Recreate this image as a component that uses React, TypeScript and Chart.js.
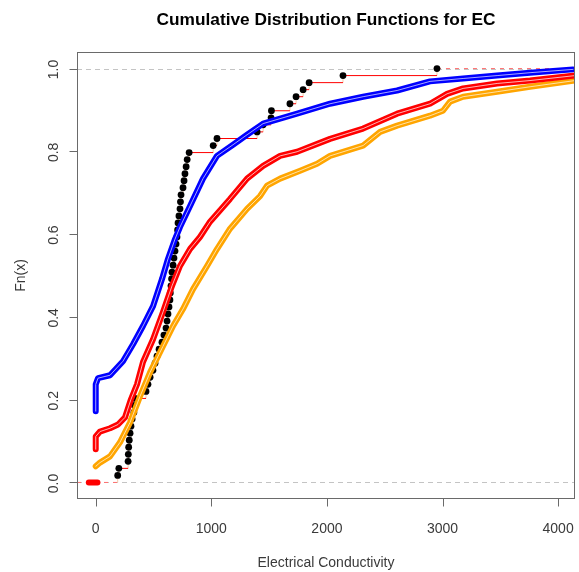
import React, { useEffect, useRef } from 'react';
import { Chart, registerables } from 'chart.js';
Chart.register(...registerables);

const title = 'Cumulative Distribution Functions for EC';
const xTitle = 'Electrical Conductivity';
const yTitle = 'Fn(x)';
const xTicks = [0, 1000, 2000, 3000, 4000];
const xTickLabels = ['0', '1000', '2000', '3000', '4000'];
const yTicks = [0, 0.2, 0.4, 0.6, 0.8, 1.0];
const yTickLabels = ['0.0', '0.2', '0.4', '0.6', '0.8', '1.0'];
const refLines = [0, 1];

const blueX = [0, 0, 20, 124, 236, 323, 409, 496, 574, 625, 686, 729, 816, 928, 1049, 1188, 1309, 1448, 1742, 2027, 2313, 2607, 2892, 3178, 3472, 3757, 4129];
const blueY = [0.172, 0.237, 0.252, 0.259, 0.293, 0.334, 0.378, 0.426, 0.492, 0.54, 0.588, 0.617, 0.668, 0.734, 0.789, 0.816, 0.84, 0.867, 0.891, 0.915, 0.932, 0.947, 0.969, 0.976, 0.983, 0.99, 0.998];

const redX = [0, 0, 37, 124, 193, 253, 305, 357, 409, 496, 582, 660, 729, 816, 902, 989, 1162, 1309, 1448, 1595, 1742, 2027, 2313, 2607, 2892, 3039, 3178, 3472, 3757, 4146];
const redY = [0.08, 0.111, 0.123, 0.131, 0.14, 0.157, 0.201, 0.237, 0.291, 0.346, 0.412, 0.475, 0.523, 0.564, 0.593, 0.63, 0.685, 0.734, 0.765, 0.789, 0.799, 0.83, 0.855, 0.891, 0.915, 0.939, 0.952, 0.964, 0.971, 0.983];
const redZeroX = [-60, 15];
const redZeroY = [0, 0];

const orangeX = [0, 37, 124, 210, 297, 383, 470, 582, 669, 755, 842, 963, 1049, 1162, 1309, 1422, 1482, 1595, 1768, 1915, 2027, 2313, 2460, 2607, 2892, 3004, 3065, 3178, 3472, 3757, 4146];
const orangeY = [0.039, 0.048, 0.063, 0.097, 0.145, 0.208, 0.266, 0.329, 0.378, 0.419, 0.467, 0.523, 0.564, 0.613, 0.661, 0.692, 0.717, 0.734, 0.753, 0.77, 0.789, 0.814, 0.847, 0.862, 0.886, 0.898, 0.92, 0.932, 0.944, 0.956, 0.971];

const ecdfX = [190, 200, 280, 282, 285, 290, 297, 305, 315, 330, 335, 340, 435, 452, 470, 495, 513, 530, 548, 573, 590, 608, 617, 625, 634, 642, 645, 651, 656, 660, 669, 677, 686, 695, 703, 708, 712, 720, 729, 733, 738, 755, 764, 772, 782, 791, 808, 1016, 1049, 1396, 1448, 1517, 1520, 1680, 1733, 1794, 1846, 2139, 2952];
const ecdfY = [0.017, 0.034, 0.051, 0.068, 0.085, 0.102, 0.119, 0.136, 0.153, 0.169, 0.186, 0.203, 0.22, 0.237, 0.254, 0.271, 0.288, 0.305, 0.322, 0.339, 0.356, 0.373, 0.39, 0.407, 0.424, 0.441, 0.458, 0.475, 0.492, 0.508, 0.525, 0.542, 0.559, 0.576, 0.593, 0.61, 0.627, 0.644, 0.661, 0.678, 0.695, 0.712, 0.729, 0.746, 0.763, 0.78, 0.797, 0.814, 0.831, 0.847, 0.864, 0.881, 0.898, 0.915, 0.932, 0.949, 0.966, 0.983, 1.0];

const X_MIN = -162;
const X_MAX = 4146;
const Y_MIN = -0.04;
const Y_MAX = 1.04;

const pts = (xs: number[], ys: number[]) => xs.map((x, i) => ({ x, y: ys[i] }));

function ecdfHoriz() {
  const out: { x: number; y: number | null }[] = [];
  for (let i = 0; i < ecdfX.length - 1; i++) {
    out.push({ x: ecdfX[i], y: ecdfY[i] });
    out.push({ x: ecdfX[i + 1], y: ecdfY[i] });
    out.push({ x: ecdfX[i + 1], y: null });
  }
  return out;
}
function ecdfVert() {
  const out: { x: number; y: number | null }[] = [];
  out.push({ x: ecdfX[0], y: 0 });
  out.push({ x: ecdfX[0], y: ecdfY[0] });
  out.push({ x: ecdfX[0], y: null });
  for (let i = 0; i < ecdfX.length - 1; i++) {
    out.push({ x: ecdfX[i + 1], y: ecdfY[i] });
    out.push({ x: ecdfX[i + 1], y: ecdfY[i + 1] });
    out.push({ x: ecdfX[i + 1], y: null });
  }
  return out;
}
function ecdfEnds() {
  return [
    { x: X_MIN, y: 0 },
    { x: ecdfX[0], y: 0 },
    { x: ecdfX[0], y: null },
    { x: ecdfX[ecdfX.length - 1], y: ecdfY[ecdfY.length - 1] },
    { x: X_MAX, y: ecdfY[ecdfY.length - 1] },
  ];
}

const FONT = '"Liberation Sans", Arial, Helvetica, sans-serif';

const rPlugin = {
  id: 'rStyle',
  beforeDatasetsDraw(chart: any) {
    const { ctx, chartArea, scales } = chart;
    const y = scales.y;
    ctx.save();
    ctx.strokeStyle = '#c4c4c4';
    ctx.lineWidth = 1;
    ctx.setLineDash([5, 4]);
    for (const v of refLines) {
      const py = Math.round(y.getPixelForValue(v)) + 0.5;
      ctx.beginPath();
      ctx.moveTo(chartArea.left, py);
      ctx.lineTo(chartArea.right, py);
      ctx.stroke();
    }
    ctx.restore();
  },
  afterDraw(chart: any) {
    const { ctx, chartArea, scales } = chart;
    const x = scales.x;
    const y = scales.y;
    const { left, right, top, bottom } = chartArea;
    ctx.save();
    ctx.strokeStyle = '#6a6a6a';
    ctx.lineWidth = 1;
    ctx.setLineDash([]);
    ctx.strokeRect(left + 0.5, top + 0.5, right - left - 1, bottom - top - 1);

    const bx = bottom - 0.5;
    ctx.beginPath();
    ctx.moveTo(x.getPixelForValue(xTicks[0]), bx);
    ctx.lineTo(x.getPixelForValue(xTicks[xTicks.length - 1]), bx);
    for (const t of xTicks) {
      const px = Math.round(x.getPixelForValue(t)) + 0.5;
      ctx.moveTo(px, bx);
      ctx.lineTo(px, bx + 8);
    }
    const lx = left + 0.5;
    ctx.moveTo(lx, y.getPixelForValue(yTicks[0]));
    ctx.lineTo(lx, y.getPixelForValue(yTicks[yTicks.length - 1]));
    for (const t of yTicks) {
      const py = Math.round(y.getPixelForValue(t)) + 0.5;
      ctx.moveTo(lx, py);
      ctx.lineTo(lx - 8, py);
    }
    ctx.stroke();

    ctx.fillStyle = '#3a3a3a';
    ctx.font = `14px ${FONT}`;
    ctx.textAlign = 'center';
    ctx.textBaseline = 'alphabetic';
    xTicks.forEach((t, i) => {
      ctx.fillText(xTickLabels[i], x.getPixelForValue(t), 533);
    });
    yTicks.forEach((t, i) => {
      ctx.save();
      ctx.translate(58, y.getPixelForValue(t) + 1);
      ctx.rotate(-Math.PI / 2);
      ctx.fillText(yTickLabels[i], 0, 0);
      ctx.restore();
    });

    ctx.fillText(xTitle, (left + right) / 2, 567);
    ctx.save();
    ctx.translate(25, (top + bottom) / 2);
    ctx.rotate(-Math.PI / 2);
    ctx.fillText(yTitle, 0, 0);
    ctx.restore();

    ctx.fillStyle = '#000';
    ctx.font = `bold 17.3px ${FONT}`;
    ctx.fillText(title, (left + right) / 2, 25);
    ctx.restore();
  },
};

function curve(label: string, xs: number[], ys: number[], color: string, width: number, order: number) {
  return {
    type: 'line' as const,
    label,
    data: pts(xs, ys),
    borderColor: color,
    borderWidth: width,
    pointRadius: 0,
    tension: 0,
    fill: false,
    borderJoinStyle: 'round' as const,
    borderCapStyle: 'round' as const,
    order,
  };
}

export default function App() {
  const ref = useRef<HTMLCanvasElement | null>(null);
  useEffect(() => {
    if (!ref.current) return;
    const chart = new Chart(ref.current, {
      type: 'line',
      data: {
        datasets: [
          curve('blue-in', blueX, blueY, '#a8a8ff', 1, 1),
          curve('blue', blueX, blueY, '#0000ff', 6, 2),
          curve('red-in', redX, redY, '#ffb4b4', 1, 3),
          curve('red', redX, redY, '#ff0000', 6, 4),
          curve('red-zero', redZeroX, redZeroY, '#ff0000', 6, 4),
          curve('orange-in', orangeX, orangeY, '#ffe2a6', 1, 5),
          curve('orange', orangeX, orangeY, '#ffa500', 6, 6),
          {
            type: 'scatter' as const,
            label: 'ecdf-points',
            data: pts(ecdfX, ecdfY),
            pointRadius: 3.4,
            pointBackgroundColor: '#000',
            pointBorderColor: '#000',
            pointBorderWidth: 0,
            showLine: false,
            order: 7,
          },
          {
            type: 'line' as const,
            label: 'ecdf-h',
            data: ecdfHoriz(),
            borderColor: '#ff0000',
            borderWidth: 1,
            pointRadius: 0,
            spanGaps: false,
            order: 8,
          },
          {
            type: 'line' as const,
            label: 'ecdf-ends',
            data: ecdfEnds(),
            borderColor: '#ff7070',
            borderWidth: 1,
            borderDash: [4, 5],
            pointRadius: 0,
            spanGaps: false,
            order: 8,
          },
          {
            type: 'line' as const,
            label: 'ecdf-v',
            data: ecdfVert(),
            borderColor: '#f6c9a6',
            borderWidth: 1,
            pointRadius: 0,
            spanGaps: false,
            order: 9,
          },
        ] as any,
      },
      options: {
        animation: false,
        responsive: false,
        devicePixelRatio: 1,
        parsing: true,
        layout: { padding: { left: 77, right: 4, top: 52, bottom: 73 } },
        plugins: { legend: { display: false }, tooltip: { enabled: false }, title: { display: false } },
        scales: {
          x: { type: 'linear', min: X_MIN, max: X_MAX, display: false },
          y: { type: 'linear', min: Y_MIN, max: Y_MAX, display: false },
        },
        events: [],
      },
      plugins: [rPlugin],
    });
    return () => chart.destroy();
  }, []);
  return (
    <div style={{ position: 'absolute', left: 0, top: 0, width: 579, height: 572, background: '#fff' }}>
      <canvas ref={ref} width={579} height={572} style={{ display: 'block' }} />
    </div>
  );
}
